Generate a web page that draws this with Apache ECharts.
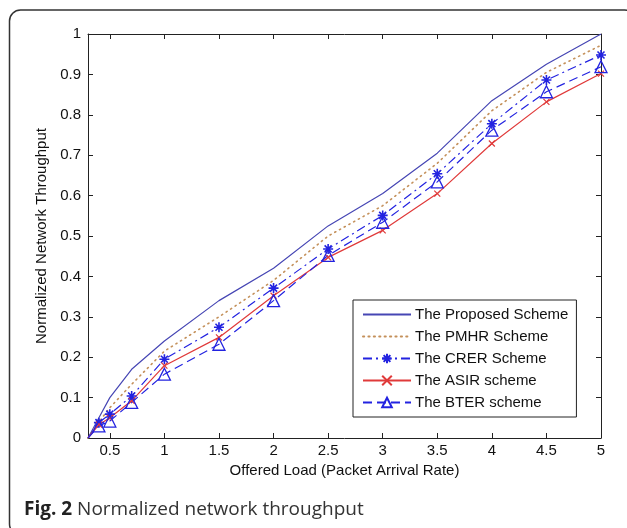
<!DOCTYPE html>
<html>
<head>
<meta charset="utf-8">
<script src="https://cdn.jsdelivr.net/npm/echarts@6/dist/echarts.min.js"></script>
<style>
html,body{margin:0;padding:0;background:#fff;}
#c{width:627px;height:528px;}
</style>
</head>
<body>
<div id="c"></div>
<script>
const loads = [0.3, 0.4, 0.5, 0.7, 1, 1.5, 2, 2.5, 3, 3.5, 4, 4.5, 5];
const proposed = [0, 0.05, 0.10, 0.17, 0.24, 0.34, 0.42, 0.525, 0.605, 0.705, 0.835, 0.925, 1.0];
const pmhr = [0, 0.04, 0.075, 0.133, 0.215, 0.30, 0.39, 0.50, 0.575, 0.68, 0.81, 0.905, 0.972];
const crer = [0, 0.038, 0.059, 0.104, 0.195, 0.274, 0.371, 0.468, 0.551, 0.654, 0.778, 0.886, 0.948];
const asir = [0, 0.033, 0.05, 0.092, 0.179, 0.249, 0.352, 0.447, 0.514, 0.605, 0.729, 0.832, 0.902];
const bter = [0, 0.03, 0.042, 0.088, 0.158, 0.232, 0.34, 0.452, 0.534, 0.634, 0.762, 0.857, 0.919];
const xTicks = [0.5, 1, 1.5, 2, 2.5, 3, 3.5, 4, 4.5, 5];
const seriesNames = ['The Proposed Scheme', 'The PMHR Scheme', 'The CRER Scheme', 'The ASIR scheme', 'The BTER scheme'];

const FONT = 'Liberation Sans, Arial, sans-serif';
const asterisk = 'path://M0,-10 L0,10 M-10,0 L10,0 M-7,-7 L7,7 M-7,7 L7,-7';
const cross = 'path://M-10,-10 L10,10 M-10,10 L10,-10';

function pts(ys) {
  return ys.map((y, i) => i === 0 ? { value: [loads[i], y], symbol: 'none' } : [loads[i], y]);
}

const hiddenMarker = { opacity: 0, color: 'rgba(0,0,0,0)', borderWidth: 0 };

const chart = echarts.init(document.getElementById('c'));
const axisLineStyle = { color: '#222', width: 1 };
chart.setOption({
  animation: false,
  backgroundColor: '#fff',
  grid: { left: 88, right: 26, top: 34, bottom: 90, containLabel: false },
  xAxis: [{
    type: 'value', min: 0.3, max: 5, position: 'bottom',
    name: 'Offered Load (Packet Arrival Rate)', nameLocation: 'middle', nameGap: 25,
    nameTextStyle: { fontFamily: FONT, fontSize: 15, color: '#111' },
    axisLine: { show: true, lineStyle: axisLineStyle },
    axisTick: { show: true, inside: true, length: 5, customValues: xTicks, lineStyle: axisLineStyle },
    axisLabel: { customValues: xTicks, fontFamily: FONT, fontSize: 15, color: '#111', margin: 5 },
    splitLine: { show: false }
  }, {
    type: 'value', min: 0.3, max: 5, position: 'top',
    axisLine: { show: true, onZero: false, lineStyle: axisLineStyle },
    axisTick: { show: true, inside: true, length: 5, customValues: xTicks, lineStyle: axisLineStyle },
    axisLabel: { show: false },
    splitLine: { show: false }
  }],
  yAxis: [{
    type: 'value', min: 0, max: 1, interval: 0.1, position: 'left',
    name: 'Normalized Network Throughput', nameLocation: 'middle', nameGap: 38,
    nameTextStyle: { fontFamily: FONT, fontSize: 15, color: '#111' },
    axisLine: { show: true, lineStyle: axisLineStyle },
    axisTick: { show: true, inside: true, length: 5, lineStyle: axisLineStyle },
    axisLabel: { fontFamily: FONT, fontSize: 15, color: '#111', margin: 7 },
    splitLine: { show: false }
  }, {
    type: 'value', min: 0, max: 1, interval: 0.1, position: 'right',
    axisLine: { show: true, onZero: false, lineStyle: axisLineStyle },
    axisTick: { show: true, inside: true, length: 5, lineStyle: axisLineStyle },
    axisLabel: { show: false },
    splitLine: { show: false }
  }],
  legend: {
    orient: 'vertical', left: 353, top: 300,
    data: [
      { name: seriesNames[0], itemStyle: hiddenMarker },
      { name: seriesNames[1], itemStyle: hiddenMarker },
      { name: seriesNames[2] },
      { name: seriesNames[3] },
      { name: seriesNames[4] }
    ],
    itemWidth: 48, itemHeight: 12, itemGap: 7,
    padding: [7, 8, 7, 9],
    borderColor: '#222', borderWidth: 1, backgroundColor: '#fff',
    textStyle: { fontFamily: FONT, fontSize: 15, color: '#111', padding: [0, 0, 0, -1] }
  },
  graphic: [
    { type: 'rect', shape: { x: 9.5, y: 10, width: 626, height: 525, r: 11 }, style: { fill: 'none', stroke: '#333', lineWidth: 1.5 }, silent: true },
    { type: 'text', left: 24, top: 500, style: {
      text: '{b|Fig. 2} Normalized network throughput',
      rich: { b: { fontFamily: 'Open Sans, sans-serif', fontWeight: 'bold', fontSize: 19, fill: '#222' } },
      fontFamily: 'Open Sans, sans-serif', fontSize: 19, fill: '#333' } }
  ],
  series: [
    { name: seriesNames[0], type: 'line', data: pts(proposed), symbol: 'none', color: '#4646b4',
      lineStyle: { width: 1.2, color: '#4646b4' } },
    { name: seriesNames[1], type: 'line', data: pts(pmhr), symbol: 'none', color: '#c4905a',
      lineStyle: { width: 1.6, color: '#c4905a', type: [1.2, 4.2], cap: 'round' } },
    { name: seriesNames[2], type: 'line', data: pts(crer), symbol: asterisk, symbolSize: 10, color: '#2323e0',
      itemStyle: { color: '#2323e0', borderColor: '#2323e0', borderWidth: 1.6 },
      lineStyle: { width: 1.2, color: '#2323e0', type: [9, 4, 2, 4] } },
    { name: seriesNames[3], type: 'line', data: pts(asir), symbol: cross, symbolSize: 6, color: '#e03a3a',
      itemStyle: { color: '#e03a3a', borderColor: '#e03a3a', borderWidth: 1.2 },
      lineStyle: { width: 1.2, color: '#e03a3a' } },
    { name: seriesNames[4], type: 'line', data: pts(bter), symbol: 'triangle', symbolSize: 12, color: '#2323e0',
      itemStyle: { color: 'rgba(255,255,255,0)', borderColor: '#2323e0', borderWidth: 1.3 },
      lineStyle: { width: 1.2, color: '#2323e0', type: [9, 5] } }
  ]
});
</script>
</body>
</html>
